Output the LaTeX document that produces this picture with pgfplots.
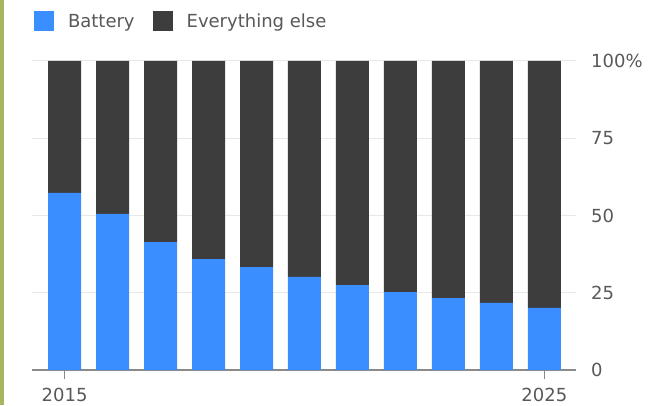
\documentclass[border=0pt]{standalone}
\usepackage{fontspec}
\setmainfont{DejaVu Sans}
\usepackage{pgfplots}
\pgfplotsset{compat=1.18}
\definecolor{battery}{HTML}{3B8EFF}
\definecolor{other}{HTML}{3D3D3D}
\definecolor{txt}{HTML}{595959}
\definecolor{gridc}{HTML}{E8E8E8}
\definecolor{olivebar}{HTML}{A9B45F}
\definecolor{axisc}{HTML}{8A8A8A}
\begin{document}
\begin{tikzpicture}
\useasboundingbox (-32pt,-35pt) rectangle (640pt,370pt);
\fill[white] (-32pt,-35pt) rectangle (640pt,370pt);
\fill[olivebar] (-32pt,-35pt) rectangle (-28pt,370pt);
\begin{axis}[
  at={(0pt,0pt)}, anchor=south west,
  scale only axis, width=544pt, height=309pt,
  ybar stacked, bar width=33pt,
  xmin=-0.68, xmax=10.66, ymin=0, ymax=100,
  axis x line*=bottom, axis y line*=right,
  y axis line style={draw=none},
  x axis line style={draw=axisc, line width=1.2pt},
  xtick={0,10}, xticklabels={2015,2025},
  xtick align=outside, major tick length=9pt,
  xtick style={draw=axisc, line width=1.2pt},
  ytick={0,25,50,75,100}, yticklabels={0,25,50,75,100\%},
  ytick style={draw=none},
  ymajorgrids, grid style={draw=gridc, line width=1pt},
  tick label style={font=\fontsize{18}{21}\selectfont, text=txt, inner sep=0pt},
  xticklabel style={anchor=north, yshift=-9pt},
  yticklabel style={anchor=west, xshift=15pt},
  /pgf/number format/assume math mode=true,
  legend image code/.code={\fill[#1] (0pt,-10pt) rectangle (20pt,10pt);},
  legend columns=-1,
  legend style={at={(axis description cs:0.0037,1.128)}, anchor=west,
    draw=none, fill=none, inner sep=0pt, outer sep=0pt,
    font=\fontsize{18}{21}\selectfont, text=txt,
    nodes={inner sep=0pt},
    column sep=14pt,
    /tikz/every even column/.append style={column sep=18pt}},
]
\addplot[fill=battery, draw=none] coordinates {(0,57.3)(1,50.5)(2,41.4)(3,35.9)(4,33.3)(5,30.1)(6,27.5)(7,25.2)(8,23.3)(9,21.7)(10,20.1)};
\addplot[fill=other, draw=none] coordinates {(0,42.7)(1,49.5)(2,58.6)(3,64.1)(4,66.7)(5,69.9)(6,72.5)(7,74.8)(8,76.7)(9,78.3)(10,79.9)};
\legend{Battery, Everything else}
\end{axis}
\end{tikzpicture}
\end{document}
